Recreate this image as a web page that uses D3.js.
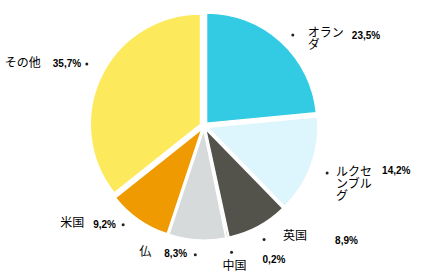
<!DOCTYPE html>
<html>
<head>
<meta charset="utf-8">
<script src="https://cdn.jsdelivr.net/npm/d3@7"></script>
<style>
	body { margin: 0; background: #fff; }
	.name { font-family: "Noto Sans CJK JP", sans-serif; font-size: 12px; fill: #000; }
	.pct { font-family: "Liberation Sans", Arial, sans-serif; font-size: 10px; font-weight: bold; fill: #000; }
</style>
</head>
<body>
<div id="chart"></div>
<script>
const countries = ['オランダ', 'ルクセンブルグ', '英国', '中国', '仏', '米国', 'その他'];
const shares = [23.5, 14.2, 8.9, 0.2, 8.3, 9.2, 35.7];
const colors = ['#33cbe3', '#ddf5fc', '#54534b', '#3c3c38', '#d6dada', '#ee9a00', '#fde95c'];

// label placement: dot nudge, name offset, percent offset (relative to dot)
const labelLayout = [
	{ nudge: [2, 4.5], name: [15, 2], pct: [59, 3.5] },
	{ nudge: [2, 2.5], name: [9, 3.5], pct: [55, 1.5] },
	{ nudge: [-1, 0], name: [19, 0.5], pct: [71, 4.5] },
	{ nudge: [1, 0], name: [-9, 17.5], pct: [31, 10.5] },
	{ nudge: [-1, 0], name: [-56, 1.5], pct: [-31, 2.5] },
	{ nudge: [-7, -7], name: [-63, 2.5], pct: [-30, 3.5] },
	{ nudge: [-1, -6], name: [-82, 3.5], pct: [-34, 3.5] },
];

const width = 424,
	height = 280,
	cx = 204,
	cy = 126,
	radius = 110,
	explode = 4;

const svg = d3.select('#chart').append('svg').attr('width', width).attr('height', height);

const g = svg.append('g').attr('transform', `translate(${cx}, ${cy})`);

const pie = d3.pie().sort(null).value((d) => d);
const arcs = pie(shares);

const arc = d3.arc().innerRadius(0).outerRadius(radius);
const labelArc = d3.arc().innerRadius(129).outerRadius(129);

const mid = (d) => (d.startAngle + d.endAngle) / 2;

g.selectAll('.slice')
	.data(arcs)
	.enter()
	.append('path')
	.attr('class', 'slice')
	.attr('d', arc)
	.attr('fill', (d, i) => colors[i])
	.attr('stroke', '#fff')
	.attr('stroke-width', 1.2)
	.attr('transform', (d) => `translate(${Math.sin(mid(d)) * explode}, ${-Math.cos(mid(d)) * explode})`);

// break names every 3 characters
const wrap = (s) => s.match(/.{1,3}/gu);

const labels = g
	.selectAll('.label')
	.data(arcs)
	.enter()
	.append('g')
	.attr('class', 'label')
	.attr('transform', (d, i) => {
		const c = labelArc.centroid(d),
			n = labelLayout[i].nudge;
		return `translate(${c[0] + n[0]}, ${c[1] + n[1]})`;
	});

labels.append('circle').attr('r', 1.5).attr('fill', '#222');

labels
	.append('text')
	.attr('class', 'name')
	.attr('x', (d, i) => labelLayout[i].name[0])
	.attr('y', (d, i) => labelLayout[i].name[1])
	.each(function (d, i) {
		const t = d3.select(this);
		wrap(countries[i]).forEach((line, k) => {
			t.append('tspan')
				.attr('x', labelLayout[i].name[0])
				.attr('dy', k === 0 ? 0 : 12)
				.text(line);
		});
	});

labels
	.append('text')
	.attr('class', 'pct')
	.attr('x', (d, i) => labelLayout[i].pct[0])
	.attr('y', (d, i) => labelLayout[i].pct[1])
	.text((d, i) => shares[i].toFixed(1).replace('.', ',') + '%');
</script>
</body>
</html>
